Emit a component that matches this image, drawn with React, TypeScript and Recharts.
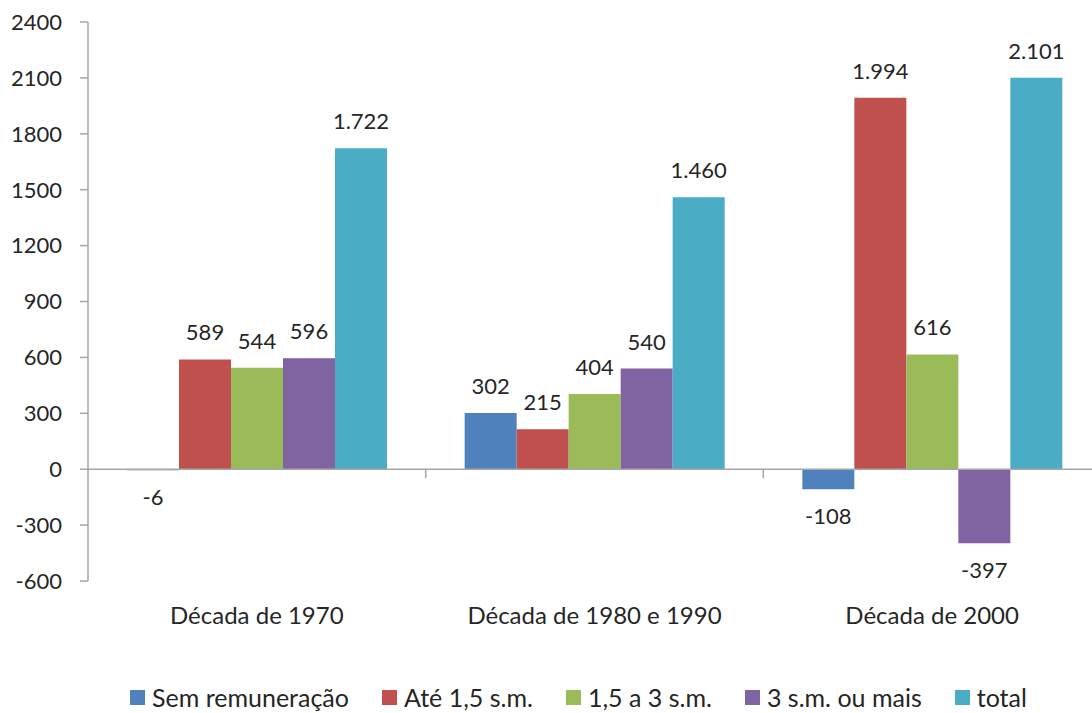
import React from 'react';
import { BarChart, Bar, XAxis, YAxis, ReferenceLine, Legend, LabelList } from 'recharts';

const categories = ['Década de 1970', 'Década de 1980 e 1990', 'Década de 2000'];
const semRemuneracao = [-6, 302, -108];
const ate15 = [589, 215, 1994];
const de15a3 = [544, 404, 616];
const tresOuMais = [596, 540, -397];
const total = [1722, 1460, 2101];
const yTicks = [-600, -300, 0, 300, 600, 900, 1200, 1500, 1800, 2100, 2400];

const seriesNames = ['Sem remuneração', 'Até 1,5 s.m.', '1,5 a 3 s.m.', '3 s.m. ou mais', 'total'];
const seriesColors = ['#4F81BD', '#C0504D', '#9BBB59', '#8064A2', '#4BACC6'];
const seriesValues = [semRemuneracao, ate15, de15a3, tresOuMais, total];

const data = categories.map((c, i) => {
  const row: Record<string, string | number> = { category: c };
  seriesValues.forEach((vals, s) => {
    row['s' + s] = vals[i];
  });
  return row;
});

const FONT = "Lato, 'Open Sans', sans-serif";
const TEXT = '#262626';
const AXIS = '#a6a6a6';

const fmt = (v: any) => {
  const n = Number(v);
  const s = String(Math.abs(n)).replace(/\B(?=(\d{3})+(?!\d))/g, '.');
  return (n < 0 ? '-' : '') + s;
};

const renderLegend = () => (
  <div
    style={{
      display: 'flex',
      alignItems: 'center',
      height: 32,
      lineHeight: '32px',
      paddingLeft: 130,
      fontFamily: FONT,
      fontSize: 25,
      color: TEXT,
      whiteSpace: 'nowrap',
    }}
  >
    {seriesNames.map((name, i) => (
      <div key={name} style={{ display: 'flex', alignItems: 'center', marginRight: 33 }}>
        <span
          style={{ display: 'inline-block', width: 15, height: 15, background: seriesColors[i], marginRight: 7 }}
        />
        <span>{name}</span>
      </div>
    ))}
  </div>
);

// zero line with small tick marks at the category boundaries
const ZeroAxis = (props: any) => {
  const { x1, x2, y1 } = props;
  const n = categories.length;
  const step = (x2 - x1) / n;
  const marks = [];
  for (let k = 1; k < n; k++) {
    const x = x1 + k * step;
    marks.push(<line key={k} x1={x} x2={x} y1={y1} y2={y1 + 9} stroke={AXIS} strokeWidth={1.5} />);
  }
  return (
    <g>
      <line x1={x1} x2={x2} y1={y1} y2={y1} stroke={AXIS} strokeWidth={1.5} />
      {marks}
    </g>
  );
};

export default function App() {
  return (
    <div style={{ position: 'absolute', left: 0, top: 0, width: 1092, height: 713, overflow: 'hidden', background: '#fff' }}>
      <BarChart
        width={1110}
        height={713}
        data={data}
        margin={{ top: 22, right: 9, left: 0, bottom: 0 }}
        barCategoryGap={39}
        barGap={0}
      >
        <XAxis
          dataKey="category"
          axisLine={false}
          tickLine={false}
          tickSize={0}
          tickMargin={26}
          height={100}
          interval={0}
          tick={{ fill: TEXT, fontSize: 24, fontFamily: FONT }}
        />
        <YAxis
          width={88}
          domain={[-600, 2400]}
          ticks={yTicks}
          interval={0}
          axisLine={{ stroke: AXIS, strokeWidth: 1.5 }}
          tickLine={{ stroke: AXIS, strokeWidth: 1.5 }}
          tickSize={8}
          tickMargin={18}
          tick={{ fill: TEXT, fontSize: 22, fontFamily: FONT }}
        />
        <Legend verticalAlign="bottom" content={renderLegend} />
        {seriesNames.map((name, s) => (
          <Bar key={name} dataKey={'s' + s} name={name} fill={seriesColors[s]} isAnimationActive={false}>
            <LabelList
              dataKey={'s' + s}
              position="top"
              offset={19}
              formatter={fmt}
              fill={TEXT}
              fontSize={22}
              fontFamily={FONT}
            />
          </Bar>
        ))}
        <ReferenceLine y={0} shape={ZeroAxis} />
      </BarChart>
    </div>
  );
}
